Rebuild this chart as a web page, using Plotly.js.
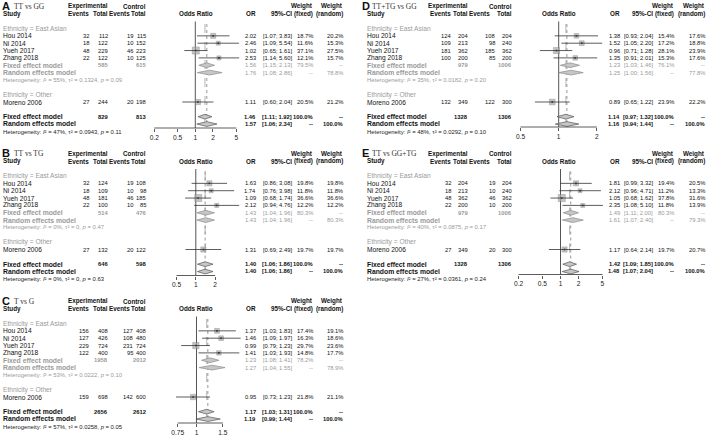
<!DOCTYPE html>
<html><head><meta charset="utf-8">
<script src="https://cdn.plot.ly/plotly-3.0.1.min.js"></script>
<style>html,body{margin:0;padding:0;background:#fff}#chart{width:709px;height:436px}</style>
</head><body><div id="chart"></div>
<script>
// ---------------- DATA ----------------
const studyNames = ['Hou 2014', 'Ni 2014', 'Yueh 2017', 'Zhang 2018', 'Moreno 2006'];
const panelLetters = ['A', 'B', 'C', 'D', 'E'];
const panelTitles = ['TT vs GG', 'TT vs TG', 'T vs G', 'TT+TG vs GG', 'TT vs GG+TG'];

// Panel A: TT vs GG
const expEventsA = [32, 18, 48, 22, 27];
const expTotalA = [112, 122, 229, 122, 244];
const ctrlEventsA = [19, 10, 46, 10, 20];
const ctrlTotalA = [115, 152, 223, 125, 198];
const orA = [2.02, 2.46, 1.02, 2.53, 1.11];
const loA = [1.07, 1.09, 0.65, 1.14, 0.60];
const hiA = [3.83, 5.54, 1.61, 5.60, 2.04];
const wFixedA = [18.7, 11.6, 37.1, 12.1, 20.5];
const wRandomA = [20.2, 15.3, 27.5, 15.7, 21.2];
const sumExpTotalA = [585, 829];      // subgroup, overall
const sumCtrlTotalA = [615, 813];
const sumOrA = [1.56, 1.76, 1.46, 1.57]; // sub fixed, sub random, overall fixed, overall random
const sumLoA = [1.15, 1.08, 1.11, 1.06];
const sumHiA = [2.13, 2.86, 1.92, 2.34];
const sumWeightA = [79.5, 78.8, 100.0, 100.0];
const hetI2A = [55, 47];
const hetTau2A = ['0.1324', '0.0943'];
const hetPA = ['0.09', '0.11'];
const ticksA = [0.2, 0.5, 1, 2, 5];

// Panel B: TT vs TG
const expEventsB = [32, 18, 48, 22, 27];
const expTotalB = [124, 109, 181, 100, 132];
const ctrlEventsB = [19, 10, 46, 10, 20];
const ctrlTotalB = [108, 98, 185, 85, 122];
const orB = [1.63, 1.74, 1.09, 2.12, 1.31];
const loB = [0.86, 0.76, 0.68, 0.94, 0.69];
const hiB = [3.08, 3.98, 1.74, 4.76, 2.49];
const wFixedB = [19.8, 11.8, 36.6, 12.2, 19.7];
const wRandomB = [19.8, 11.8, 36.6, 12.2, 19.7];
const sumExpTotalB = [514, 646];
const sumCtrlTotalB = [476, 598];
const sumOrB = [1.43, 1.43, 1.40, 1.40];
const sumLoB = [1.04, 1.04, 1.06, 1.06];
const sumHiB = [1.96, 1.96, 1.86, 1.86];
const sumWeightB = [80.3, 80.3, 100.0, 100.0];
const hetI2B = [0, 0];
const hetTau2B = ['0', '0'];
const hetPB = ['0.47', '0.63'];
const ticksB = [0.5, 1, 2];

// Panel C: T vs G
const expEventsC = [156, 127, 229, 122, 159];
const expTotalC = [408, 426, 724, 400, 698];
const ctrlEventsC = [127, 108, 231, 95, 142];
const ctrlTotalC = [408, 480, 724, 400, 600];
const orC = [1.37, 1.46, 0.99, 1.41, 0.95];
const loC = [1.03, 1.09, 0.79, 1.03, 0.73];
const hiC = [1.83, 1.97, 1.23, 1.93, 1.23];
const wFixedC = [17.4, 16.3, 29.7, 14.8, 21.8];
const wRandomC = [19.1, 18.6, 23.6, 17.7, 21.1];
const sumExpTotalC = [1958, 2656];
const sumCtrlTotalC = [2012, 2612];
const sumOrC = [1.23, 1.27, 1.17, 1.19];
const sumLoC = [1.08, 1.04, 1.03, 0.99];
const sumHiC = [1.41, 1.55, 1.31, 1.44];
const sumWeightC = [78.2, 78.9, 100.0, 100.0];
const hetI2C = [53, 57];
const hetTau2C = ['0.0222', '0.0258'];
const hetPC = ['0.10', '0.05'];
const ticksC = [0.75, 1, 1.5];

// Panel D: TT+TG vs GG
const expEventsD = [124, 109, 181, 100, 132];
const expTotalD = [204, 213, 362, 200, 349];
const ctrlEventsD = [108, 98, 185, 85, 122];
const ctrlTotalD = [204, 240, 362, 200, 300];
const orD = [1.38, 1.52, 0.96, 1.35, 0.89];
const loD = [0.93, 1.05, 0.71, 0.91, 0.65];
const hiD = [2.04, 2.20, 1.28, 2.01, 1.22];
const wFixedD = [15.4, 17.2, 28.1, 15.3, 23.9];
const wRandomD = [17.6, 18.8, 23.9, 17.6, 22.2];
const sumExpTotalD = [979, 1328];
const sumCtrlTotalD = [1006, 1306];
const sumOrD = [1.23, 1.25, 1.14, 1.16];
const sumLoD = [1.03, 1.00, 0.97, 0.94];
const sumHiD = [1.46, 1.56, 1.32, 1.44];
const sumWeightD = [76.1, 77.8, 100.0, 100.0];
const hetI2D = [35, 48];
const hetTau2D = ['0.0182', '0.0292'];
const hetPD = ['0.20', '0.10'];
const ticksD = [0.5, 1, 2];

// Panel E: TT vs GG+TG
const expEventsE = [32, 18, 48, 22, 27];
const expTotalE = [204, 213, 362, 200, 349];
const ctrlEventsE = [19, 10, 46, 10, 20];
const ctrlTotalE = [204, 240, 362, 200, 300];
const orE = [1.81, 2.12, 1.05, 2.35, 1.17];
const loE = [0.99, 0.96, 0.68, 1.08, 0.64];
const hiE = [3.32, 4.71, 1.62, 5.10, 2.14];
const wFixedE = [19.4, 11.2, 37.8, 11.8, 19.7];
const wRandomE = [20.5, 13.3, 31.6, 13.9, 20.7];
const sumExpTotalE = [979, 1328];
const sumCtrlTotalE = [1006, 1306];
const sumOrE = [1.49, 1.61, 1.42, 1.48];
const sumLoE = [1.11, 1.07, 1.09, 1.07];
const sumHiE = [2.00, 2.40, 1.85, 2.04];
const sumWeightE = [80.3, 79.3, 100.0, 100.0];
const hetI2E = [40, 27];
const hetTau2E = ['0.0875', '0.0361'];
const hetPE = ['0.17', '0.24'];
const ticksE = [0.2, 0.5, 1, 2, 5];

// assemble (built from the arrays above)
const panels = [
  {ee: expEventsA, et: expTotalA, ce: ctrlEventsA, ct: ctrlTotalA, or: orA, lo: loA, hi: hiA, wf: wFixedA, wr: wRandomA, se: sumExpTotalA, sc: sumCtrlTotalA, sOr: sumOrA, sLo: sumLoA, sHi: sumHiA, sW: sumWeightA, i2: hetI2A, t2: hetTau2A, pv: hetPA, ticks: ticksA},
  {ee: expEventsB, et: expTotalB, ce: ctrlEventsB, ct: ctrlTotalB, or: orB, lo: loB, hi: hiB, wf: wFixedB, wr: wRandomB, se: sumExpTotalB, sc: sumCtrlTotalB, sOr: sumOrB, sLo: sumLoB, sHi: sumHiB, sW: sumWeightB, i2: hetI2B, t2: hetTau2B, pv: hetPB, ticks: ticksB},
  {ee: expEventsC, et: expTotalC, ce: ctrlEventsC, ct: ctrlTotalC, or: orC, lo: loC, hi: hiC, wf: wFixedC, wr: wRandomC, se: sumExpTotalC, sc: sumCtrlTotalC, sOr: sumOrC, sLo: sumLoC, sHi: sumHiC, sW: sumWeightC, i2: hetI2C, t2: hetTau2C, pv: hetPC, ticks: ticksC},
  {ee: expEventsD, et: expTotalD, ce: ctrlEventsD, ct: ctrlTotalD, or: orD, lo: loD, hi: hiD, wf: wFixedD, wr: wRandomD, se: sumExpTotalD, sc: sumCtrlTotalD, sOr: sumOrD, sLo: sumLoD, sHi: sumHiD, sW: sumWeightD, i2: hetI2D, t2: hetTau2D, pv: hetPD, ticks: ticksD},
  {ee: expEventsE, et: expTotalE, ce: ctrlEventsE, ct: ctrlTotalE, or: orE, lo: loE, hi: hiE, wf: wFixedE, wr: wRandomE, se: sumExpTotalE, sc: sumCtrlTotalE, sOr: sumOrE, sLo: sumLoE, sHi: sumHiE, sW: sumWeightE, i2: hetI2E, t2: hetTau2E, pv: hetPE, ticks: ticksE}
];

// ---------------- LAYOUT GEOMETRY ----------------
const W = 709, H = 436;
const FONT = 'Liberation Sans, Arial, Helvetica, sans-serif';
const SERIF = 'Liberation Serif, Times New Roman, serif';
const NUM = 5.8;     // numeric columns
const LABEL = 6.6;   // study / subgroup labels
const MODEL = 6.8;   // model labels (bold)
const BOLD = 6.3;    // header
const HET = 5.9;
const GRAY = '#9a9a9a';
const colGeo = [
  {x0: 1.5, expEv: 90, expTot: 109, ctlEvHdr: 130.8, ctlEv: 133.5, ctlTot: 147, orHdr: 196, orR: 257, ciR: 293, wfR: 313.5, wrR: 343.5, letterX: 0.5, subX: 13},
  {x0: 366, expEv: 452, expTot: 469, ctlEvHdr: 491, ctlEv: 496, ctlTot: 512.7, orHdr: 558.5, orR: 621, ciR: 653.5, wfR: 675, wrR: 706, letterX: 360.5, subX: 370.5}
];
const panelTop = [0, 147.5, 295, 0, 147.5];
const panelCol = [0, 0, 0, 1, 1];
const oneAt = [195.3, 195.8, 196.5, 558.7, 560.5];
const pxPerDecade = [58.7, 64, 150, 127, 60];
const domPx = [[147, 243], [165, 243], [165, 243], [512, 607], [510, 607]];
const axisRel = [128, 128, 128, 127, 127];

const annotations = [];
function txt(x, y, s, o) {
  o = o || {};
  annotations.push({
    xref: 'paper', yref: 'paper', x: x / W, y: 1 - y / H, text: s, showarrow: false,
    xanchor: o.anchor || 'left', yanchor: 'middle', borderpad: 0,
    font: {family: o.family || FONT, size: o.size || NUM, color: o.color || '#111'}
  });
}
const f2 = v => v.toFixed(2);
const ci = (l, h) => '[' + f2(l) + '; ' + f2(h) + ']';
const pct = v => v.toFixed(1) + '%';
const het = (i2, t2, p) => 'Heterogeneity: <i>I</i>² = ' + i2 + '%, τ² = ' + t2 + ', <i>p</i> = ' + p;

const traces = [];
const layout = {
  width: W, height: H, margin: {l: 0, r: 0, t: 0, b: 0},
  paper_bgcolor: '#fff', plot_bgcolor: 'rgba(0,0,0,0)', showlegend: false,
  yaxis: {range: [H, 0], domain: [0, 1], visible: false, fixedrange: true},
  annotations: annotations
};

panels.forEach((P, p) => {
  const g = colGeo[panelCol[p]];
  const top = panelTop[p];
  const ry = k => top + 28.5 + 7.35 * k;
  const studyK = [1, 2, 3, 4, 10];
  const b = s => '<b>' + s + '</b>';
  const hb = {size: BOLD};
  const hbr = {size: BOLD, anchor: 'right'};

  // titles & headers
  txt(g.letterX, top + 5.6, b(panelLetters[p]), {size: 11, color: '#111'});
  txt(g.subX, top + 6.2, panelTitles[p], {family: SERIF, size: 7.5, color: '#333'});
  txt(g.expTot, top + 6.3, b('Experimental'), hbr);
  txt(g.ctlTot, top + 6.3, b('Control'), hbr);
  txt(g.wfR, top + 6.3, b('Weight'), hbr);
  txt(g.wrR, top + 6.3, b('Weight'), hbr);
  const h2 = top + 13.9;
  txt(g.x0, h2, b('Study'), hb);
  txt(g.expEv, h2, b('Events'), hbr);
  txt(g.expTot, h2, b('Total'), hbr);
  txt(g.ctlEvHdr, h2, b('Events'), hbr);
  txt(g.ctlTot, h2, b('Total'), hbr);
  txt(g.orHdr, h2, b('Odds Ratio'), {size: BOLD, anchor: 'center'});
  txt(g.orR, h2, b('OR'), hbr);
  txt(g.ciR, h2, b('95%-CI'), hbr);
  txt(g.wfR, h2, b('(fixed)'), hbr);
  txt(g.wrR, h2, b('(random)'), hbr);

  // subgroup labels
  txt(g.x0, ry(0), 'Ethnicity = East Asian', {size: LABEL, color: GRAY});
  txt(g.x0, ry(9), 'Ethnicity = Other', {size: LABEL, color: GRAY});

  // study rows
  studyNames.forEach((name, i) => {
    const y = ry(studyK[i]);
    txt(g.x0, y, name, {size: LABEL});
    txt(g.expEv, y, String(P.ee[i]), {anchor: 'right'});
    txt(g.expTot, y, String(P.et[i]), {anchor: 'right'});
    txt(g.ctlEv, y, String(P.ce[i]), {anchor: 'right'});
    txt(g.ctlTot, y, String(P.ct[i]), {anchor: 'right'});
    txt(g.orR, y, f2(P.or[i]), {anchor: 'right'});
    txt(g.ciR, y, ci(P.lo[i], P.hi[i]), {anchor: 'right'});
    txt(g.wfR, y, pct(P.wf[i]), {anchor: 'right'});
    txt(g.wrR, y, pct(P.wr[i]), {anchor: 'right'});
  });

  // summary rows
  const sumK = [5, 6, 12, 13];
  sumK.forEach((k, j) => {
    const y = ry(k) - (j === 3 ? 0.4 : 0);
    const overall = j >= 2;
    const col = overall ? '#111' : GRAY;
    const wrap = s => overall ? b(s) : s;
    const isFixed = j % 2 === 0;
    txt(g.x0, y, b(isFixed ? 'Fixed effect model' : 'Random effects model'), {size: MODEL, color: col});
    if (isFixed) {
      txt(g.expTot, y, b(String(P.se[overall ? 1 : 0])), {anchor: 'right', color: col});
      txt(g.ctlTot, y, b(String(P.sc[overall ? 1 : 0])), {anchor: 'right', color: col});
    }
    txt(g.orR, y, wrap(f2(P.sOr[j])), {anchor: 'right', color: col});
    txt(g.ciR, y, wrap(ci(P.sLo[j], P.sHi[j])), {anchor: 'right', color: col});
    txt(g.wfR, y, wrap(isFixed ? pct(P.sW[j]) : '--'), {anchor: 'right', color: col});
    txt(g.wrR, y, wrap(isFixed ? '--' : pct(P.sW[j])), {anchor: 'right', color: col});
  });
  txt(g.x0, ry(7), het(P.i2[0], P.t2[0], P.pv[0]), {size: HET, color: GRAY});
  txt(g.x0, ry(14) + 0.2, het(P.i2[1], P.t2[1], P.pv[1]), {size: HET, color: '#222'});

  // ---------- forest plot ----------
  const xa = p === 0 ? 'x' : 'x' + (p + 1);
  const axY = top + axisRel[p];
  const L = domPx[p][0], R = domPx[p][1];
  layout[p === 0 ? 'xaxis' : 'xaxis' + (p + 1)] = {
    type: 'log', domain: [L / W, R / W],
    range: [(L - oneAt[p]) / pxPerDecade[p], (R - oneAt[p]) / pxPerDecade[p]],
    autorange: false, anchor: 'free', position: 1 - axY / H,
    showline: false, showgrid: false, zeroline: false,
    ticks: 'outside', ticklen: 3, tickwidth: 0.8, tickcolor: '#333',
    tickvals: P.ticks, ticktext: P.ticks.map(String),
    tickfont: {family: FONT, size: 6.6, color: '#222'}, fixedrange: true
  };
  const base = {type: 'scatter', xaxis: xa, yaxis: 'y', hoverinfo: 'skip', cliponaxis: true};
  // reference line at OR = 1
  traces.push(Object.assign({}, base, {mode: 'lines', x: [1, 1], y: [top + 21.5, axY], line: {color: '#555', width: 1}}));
  // overall fixed (dashed) and random (dotted) lines
  traces.push(Object.assign({}, base, {mode: 'lines', x: [P.sOr[2], P.sOr[2]], y: [top + 24, top + 126.5], line: {color: '#aaa', width: 0.9, dash: 'dash'}}));
  traces.push(Object.assign({}, base, {mode: 'lines', x: [P.sOr[3], P.sOr[3]], y: [top + 24, top + 126.5], line: {color: '#999', width: 1, dash: 'dot'}}));
  // squares
  traces.push(Object.assign({}, base, {
    mode: 'markers', x: P.or, y: studyK.map(ry),
    marker: {symbol: 'square', size: P.wf.map(w => 1.15 * Math.sqrt(w)), color: '#aaaaaa', line: {color: '#808080', width: 0.6}}
  }));
  // confidence intervals
  const cx = [], cy = [];
  P.or.forEach((v, i) => { cx.push(P.lo[i], P.hi[i], null); cy.push(ry(studyK[i]), ry(studyK[i]), null); });
  traces.push(Object.assign({}, base, {mode: 'lines', x: cx, y: cy, line: {color: '#333', width: 0.8}}));
  // dot for point estimates
  traces.push(Object.assign({}, base, {mode: 'markers', x: P.or, y: studyK.map(ry), marker: {symbol: 'square', size: 1.6, color: '#333'}}));
  // diamonds
  sumK.forEach((k, j) => {
    const yc = ry(k), hh = 2.4;
    traces.push(Object.assign({}, base, {
      mode: 'lines', fill: 'toself',
      x: [P.sLo[j], P.sOr[j], P.sHi[j], P.sOr[j], P.sLo[j]],
      y: [yc, yc - hh, yc, yc + hh, yc],
      fillcolor: '#c6c6c6', line: {color: j < 2 ? '#8c8c8c' : '#555', width: 0.7}
    }));
  });
  // axis baseline between first and last tick
  const t = P.ticks;
  traces.push(Object.assign({}, base, {mode: 'lines', x: [t[0], t[t.length - 1]], y: [axY, axY], line: {color: '#333', width: 0.8}}));
});

Plotly.newPlot('chart', traces, layout, {staticPlot: true, displayModeBar: false});
</script>
</body></html>
